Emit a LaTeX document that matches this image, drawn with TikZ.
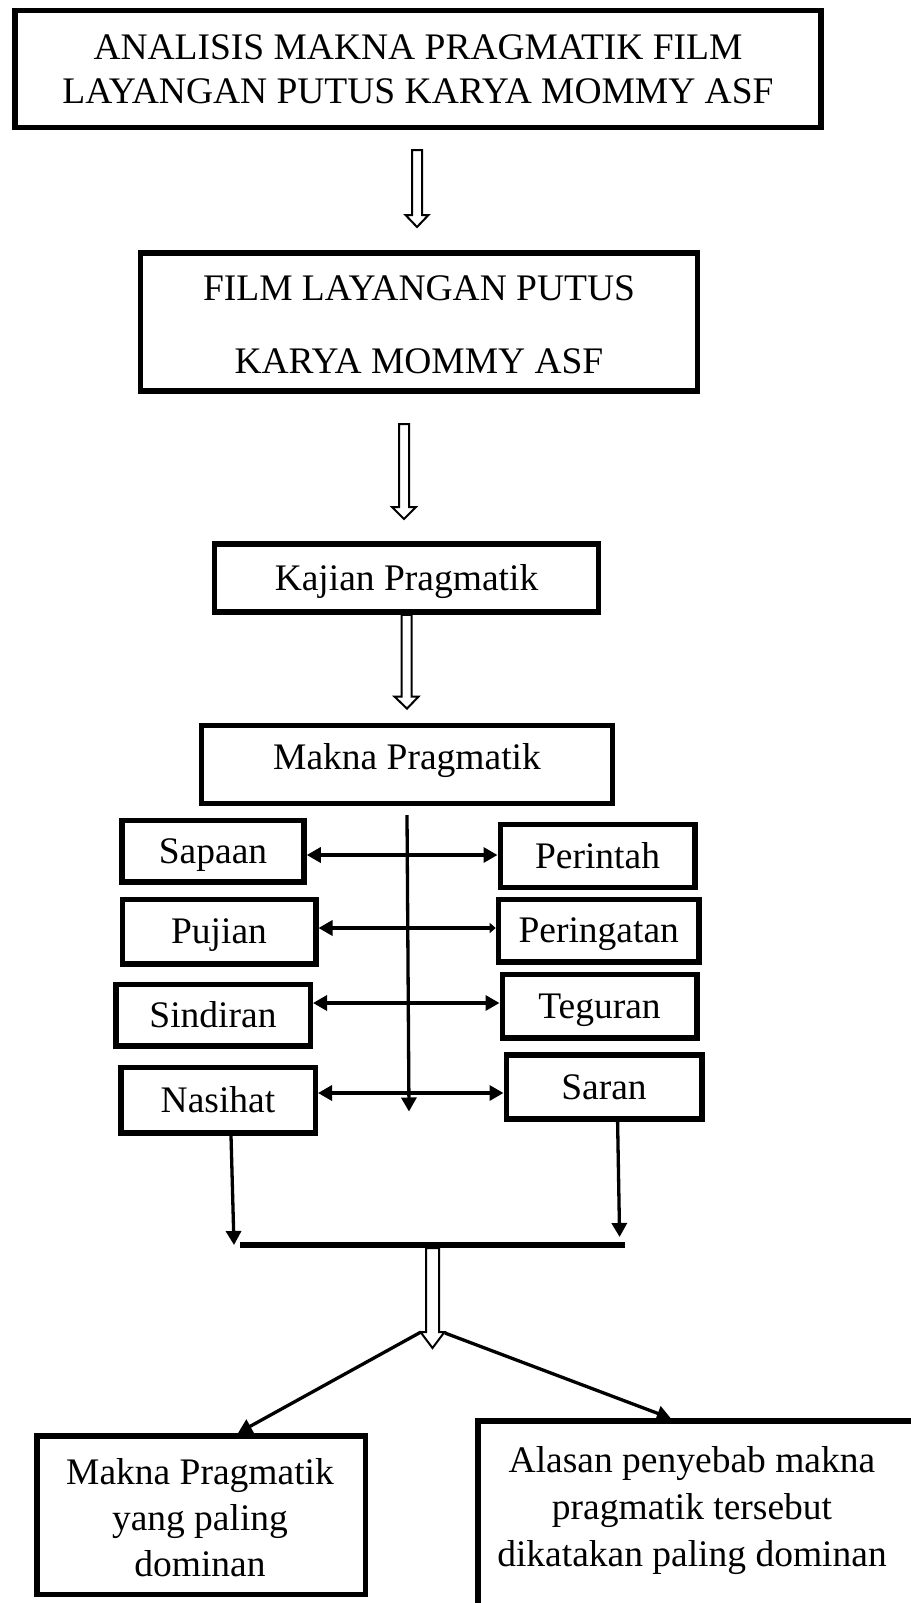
\documentclass[tikz,border=0pt]{standalone}
\usepackage{fontspec}
\setmainfont{Liberation Serif}
\usetikzlibrary{arrows.meta,calc}
\tikzset{
  box/.style={draw, line width=5.5pt, inner sep=0pt, align=center, font=\fontsize{37.5}{44}\selectfont},
  one/.style={text height=24.5pt, text depth=0pt},
  txt/.style={inner sep=0pt, align=center, font=\fontsize{37.5}{46}\selectfont},
  arr/.style={line width=3.3pt, -{Triangle[length=14pt,width=15pt]}},
  smallarr/.style={line width=3.3pt, -{Triangle[length=6pt,width=10pt]}},
  barrow/.style={draw, line width=2pt, fill=white, line join=miter},
  bar/.style={line width=5.5pt},
}
\newcommand\blockarrow[5]{\draw[barrow] let \p1=(#1),\p2=(#2) in
  (\x1-#3,\y1) -- (\x1-#3,\y2+#5) -- (\x1-#4,\y2+#5) -- (\x2,\y2) --
  (\x1+#4,\y2+#5) -- (\x1+#3,\y2+#5) -- (\x1+#3,\y1) -- cycle;}
\begin{document}
\begin{tikzpicture}[x=1pt,y=-1pt]
\useasboundingbox (0,0) rectangle (910,1603);
% main boxes
\node[box, minimum width=806pt, minimum height=117pt] (top) at (418,69)
  {ANALISIS MAKNA PRAGMATIK FILM\\LAYANGAN PUTUS KARYA MOMMY ASF};
\node[box, minimum width=557pt, minimum height=138pt] (film) at (419,322) {};
\node[txt] (filmt) at (419,325) {FILM LAYANGAN PUTUS\\[27pt]KARYA MOMMY ASF};
\node[box, one, minimum width=384pt, minimum height=68pt] (kajian) at (406.5,578) {Kajian Pragmatik};
\node[box, minimum width=411pt, minimum height=78pt] (makna) at (407,764.5) {};
\node[txt, one] (maknat) at (407,757.5) {Makna Pragmatik};
% left boxes
\node[box, one, minimum width=182pt, minimum height=61.5pt] (Sapaan) at (213,851) {Sapaan};
\node[box, one, minimum width=193.5pt, minimum height=64.5pt] (Pujian) at (219,931.5) {Pujian};
\node[box, one, minimum width=194.5pt, minimum height=61.5pt] (Sindiran) at (213,1015) {Sindiran};
\node[box, one, minimum width=194.5pt, minimum height=65.5pt] (Nasihat) at (218,1100) {Nasihat};
% right boxes
\node[box, one, minimum width=194.5pt, minimum height=63pt] (Perintah) at (597.5,856) {Perintah};
\node[box, one, minimum width=200.5pt, minimum height=62.5pt] (Peringatan) at (598.7,930.5) {Peringatan};
\node[box, one, minimum width=194.5pt, minimum height=63.5pt] (Teguran) at (599.5,1006) {Teguran};
\node[box, one, minimum width=195.5pt, minimum height=64pt] (Saran) at (604,1087) {Saran};
% bottom boxes
\node[box, minimum width=328.5pt, minimum height=158.5pt] (L) at (201,1515) {};
\node[txt] (Lt) at (200,1518) {Makna Pragmatik\\yang paling\\dominan};
\node[box, minimum width=452pt, minimum height=199pt] (R) at (703.9,1520.6) {};
\node[txt, font=\fontsize{37.5}{47}\selectfont] (Rt) at (692,1511) {Alasan penyebab makna\\pragmatik tersebut\\dikatakan paling dominan};
% hollow arrows
\coordinate (a1s) at (417,150); \coordinate (a1e) at (417,227);
\blockarrow{a1s}{a1e}{5pt}{11.5pt}{12pt}
\coordinate (a2s) at (404,424); \coordinate (a2e) at (404,519);
\blockarrow{a2s}{a2e}{5pt}{12pt}{12pt}
\coordinate (a3e) at (407,708.6);
\blockarrow{kajian.south}{a3e}{5pt}{12pt}{12pt}
% central vertical line
\coordinate (vtop) at (407,815); \coordinate (vbot) at (409,1111.5);
\draw[arr] (vtop) -- (vbot);
% row arrows
\coordinate (r1) at (408,855);
\coordinate (r2) at (408,928);
\coordinate (r3) at (408,1003);
\coordinate (r4) at (409,1093);
\draw[arr] (r1) -- (Sapaan.east |- r1);
\draw[arr] (r1) -- (Perintah.west |- r1);
\draw[arr] (r2) -- (Pujian.east |- r2);
\draw[smallarr] (r2) -- (Peringatan.west |- r2);
\draw[arr] (r3) -- (Sindiran.east |- r3);
\draw[arr] (r3) -- (Teguran.west |- r3);
\draw[arr] (r4) -- (Nasihat.east |- r4);
\draw[arr] (r4) -- (Saran.west |- r4);
% down arrows to bar
\coordinate (nd) at (234,1245);
\coordinate (sd) at (619.6,1237);
\draw[arr] ([xshift=13pt]Nasihat.south) -- (nd);
\draw[arr] ([xshift=13.6pt]Saran.south) -- (sd);
\coordinate (barL) at (240,1245); \coordinate (barR) at (625,1245);
\draw[bar] (barL) -- (barR);
% hollow arrow from bar
\coordinate (a4s) at (432.5,1248); \coordinate (a4e) at (432.5,1348);
\blockarrow{a4s}{a4e}{6.5pt}{12pt}{16pt}
% diagonals
\coordinate (dl) at (421,1332); \coordinate (dr) at (445,1333);
\draw[arr] (dl) -- ([xshift=37pt]L.north);
\draw[arr] (dr) -- ([xshift=-33pt]R.north);
\end{tikzpicture}
\end{document}
